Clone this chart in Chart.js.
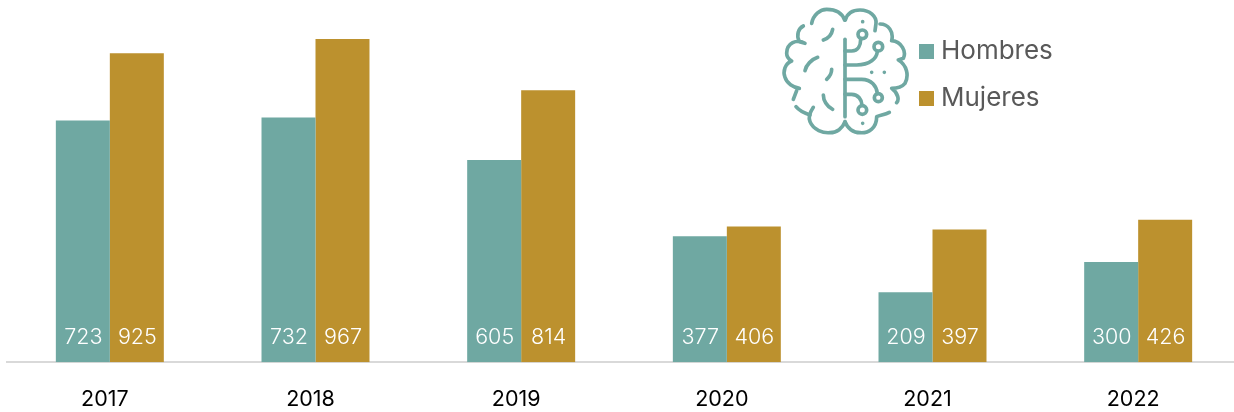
<!DOCTYPE html>
<html>
<head>
<meta charset="utf-8">
<script src="https://cdn.jsdelivr.net/npm/chart.js@4"></script>
<style>
html, body { margin:0; padding:0; background:#fff; overflow:hidden; }
#wrap { position:relative; width:1241px; height:412px; overflow:hidden; }
#myChart { display:block; }
#brain { position:absolute; left:770px; top:0; width:140px; height:140px; }
#legend { position:absolute; left:919px; top:26px; font-family:Inter, sans-serif; font-size:26px; color:#595959; }
#legend div { height:47px; line-height:47px; white-space:nowrap; }
#legend span { display:inline-block; width:15px; height:15px; margin-right:7px; }
</style>
</head>
<body>
<div id="wrap">
<canvas id="myChart" width="1241" height="436"></canvas>
<svg id="brain" viewBox="0 0 420 420" fill="none" stroke="#6fa8a2" stroke-width="11" stroke-linecap="round" stroke-linejoin="round">
  <!-- left half -->
  <path d="M224 60 C216 38 195 28 170 28 C150 28 130 45 125 70"/>
  <path d="M100 78 C85 85 78 105 88 125 L105 130 C80 115 50 130 50 160 C50 175 60 180 65 183 C45 190 38 215 45 232 C50 250 70 262 88 265"/>
  <path d="M80 272 L70 298"/>
  <path d="M78 320 C90 335 105 340 120 345"/>
  <path d="M130 322 C118 340 115 355 120 365 C130 390 160 400 180 398 C200 398 218 385 225 365"/>
  <!-- right half -->
  <path d="M226 60 C232 40 245 30 270 30 C300 30 320 50 318 70 L315 92"/>
  <path d="M330 72 C355 72 372 95 365 122 C395 125 410 155 400 175 L385 180 C410 195 418 225 405 250 C395 262 380 265 365 265 C385 280 388 300 380 308"/>
  <path d="M358 337 C345 344 332 345 320 350 C320 385 295 400 270 398 C250 398 232 385 225 365"/>
  <!-- stem and circuits -->
  <path d="M225 118 V350"/>
  <path d="M225 153 H245 C265 153 272 135 272 118"/>
  <path d="M225 195 H260 C300 195 320 175 322 155"/>
  <path d="M225 238 H275 C305 238 320 260 322 280"/>
  <path d="M225 283 H245 C265 283 275 300 276 315"/>
  <circle cx="277" cy="103" r="13"/><circle cx="325" cy="140" r="13"/>
  <circle cx="325" cy="293" r="12"/><circle cx="277" cy="330" r="13"/>
  <!-- inner folds -->
  <path d="M160 120 C175 115 185 105 188 88"/>
  <path d="M105 212 C108 195 125 178 143 172"/>
  <path d="M170 238 C185 225 185 215 185 208"/>
  <path d="M160 285 C160 300 170 320 188 328"/>
  <path d="M278 65 h.01M305 217 h.01M343 217 h.01M278 370 h.01"/>
</svg>
<div id="legend"></div>
</div>
<script>
var categories = ["2017", "2018", "2019", "2020", "2021", "2022"];
var hombres = [723, 732, 605, 377, 209, 300];
var mujeres = [925, 967, 814, 406, 397, 426];
var hombresColor = "#6fa8a2";
var mujeresColor = "#bc912e";

// white numbers sitting at the foot of every bar
var barLabels = {
    id: "barLabels",
    afterDatasetsDraw: function(chart) {
        var ctx = chart.ctx;
        ctx.save();
        ctx.font = "300 21.5px Inter";
        ctx.fillStyle = "#ffffff";
        ctx.textAlign = "center";
        ctx.textBaseline = "middle";
        chart.data.datasets.forEach(function(ds, i) {
            chart.getDatasetMeta(i).data.forEach(function(bar, j) {
                ctx.fillText(ds.data[j], bar.x + 0.5, chart.scales.y.bottom - 25);
            });
        });
        ctx.restore();
    }
};

new Chart("myChart", {
    type: "bar",
    data: {
        labels: categories,
        datasets: [
            {label:"Hombres", data:hombres, backgroundColor:hombresColor},
            {label:"Mujeres", data:mujeres, backgroundColor:mujeresColor}
        ]
    },
    options: {
        responsive: false,
        animation: false,
        layout: {padding:{left:7, right:0, top:0, bottom:0}},
        categoryPercentage: 0.525,
        barPercentage: 1,
        plugins: {legend:{display:false}, title:{display:false}, tooltip:{enabled:false}},
        scales: {
            x: {
                grid: {display:false, drawTicks:false},
                border: {color:"#d9d9d9", width:2},
                ticks: {color:"#000000", font:{family:"Inter", size:21.5}, padding:24, labelOffset:-5, maxRotation:0}
            },
            y: {
                display: false,
                min: 0,
                max: 1084
            }
        }
    },
    plugins: [barLabels]
});

document.getElementById("legend").innerHTML =
    "<div><span style='background:" + hombresColor + "'></span>Hombres</div>" +
    "<div><span style='background:" + mujeresColor + "'></span>Mujeres</div>";
</script>
</body>
</html>
